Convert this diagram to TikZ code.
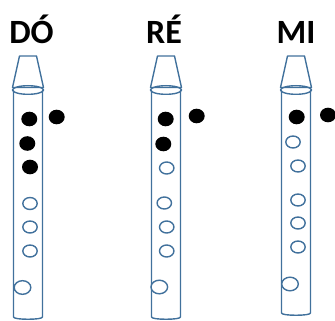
\documentclass[tikz,border=0pt]{standalone}
\usepackage{fontspec}
\setmainfont{Carlito}
\definecolor{pipe}{RGB}{65,113,156}
\begin{document}
\begin{tikzpicture}[x=1pt,y=-1pt,
  outline/.style={draw=pipe, line width=1.4pt, line join=round},
  closedhole/.style={fill=black},
  openhole/.style={draw=pipe, line width=1.4pt, fill=white},
  notename/.style={font=\bfseries\fontsize{34}{34}\selectfont, inner sep=0pt, anchor=base}]
\useasboundingbox (0,0) rectangle (335,321);

% recorder body: #1 = centre x, #2 = bottom y
\newcommand\recorderbody[2]{%
  \draw[outline, fill=white] (#1-14.5,90) -- (#1-14.5,#2-2)
    .. controls (#1-14.5,#2+1) and (#1+14.5,#2+1) .. (#1+14.5,#2-2) -- (#1+14.5,90);
  \draw[outline, fill=white] (#1-8.5,56) -- (#1+8.5,56) -- (#1+15.5,87.5) -- (#1-15.5,87.5) -- cycle;
  \draw[outline] (#1,90) ellipse [x radius=15.5, y radius=4.3];
}

% DÓ
\node[notename] (do) at (31.5,43.5) {DÓ};
\recorderbody{28}{319}
\foreach \x/\y in {29.3/119, 27.3/143.5, 30/167, 56.7/117}
  \fill[closedhole] (\x,\y) ellipse [x radius=8, y radius=7.3];
\foreach \x/\y in {30/203.5, 30/227, 30/251}
  \draw[openhole] (\x,\y) ellipse [x radius=7.2, y radius=6];
\draw[openhole] (22.5,287.5) ellipse [x radius=8.3, y radius=6.8];

% RÉ
\node[notename] (re) at (164,43.5) {RÉ};
\recorderbody{166}{319}
\foreach \x/\y in {165.7/119, 163.3/144, 196.7/116}
  \fill[closedhole] (\x,\y) ellipse [x radius=8, y radius=7.3];
\foreach \x/\y in {166.7/168, 164.3/203, 166.7/227, 166.7/251}
  \draw[openhole] (\x,\y) ellipse [x radius=7.2, y radius=6];
\draw[openhole] (159.3,287) ellipse [x radius=8.3, y radius=6.8];

% MI
\node[notename] (mi) at (296,43.5) {MI};
\recorderbody{296}{315}
\foreach \x/\y in {296.7/117, 328/115}
  \fill[closedhole] (\x,\y) ellipse [x radius=8, y radius=7.3];
\foreach \x/\y in {293/142, 298/166, 298/200, 298/223, 298/247}
  \draw[openhole] (\x,\y) ellipse [x radius=7.2, y radius=6];
\draw[openhole] (290,284) ellipse [x radius=8.3, y radius=6.8];
\end{tikzpicture}
\end{document}
